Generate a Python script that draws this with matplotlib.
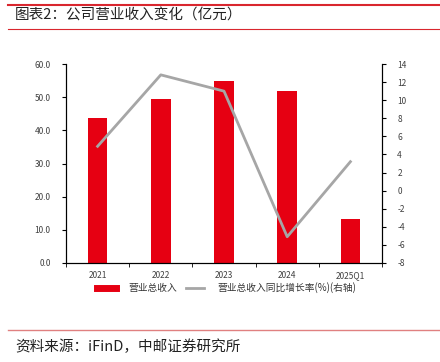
import numpy as np
import matplotlib
matplotlib.use("Agg")
from matplotlib import pyplot as plt
from matplotlib.lines import Line2D

plt.rcParams['font.family'] = ['Noto Sans CJK SC', 'DejaVu Sans']
plt.rcParams['axes.unicode_minus'] = False

categories = ['2021', '2022', '2023', '2024', '2025Q1']
revenue = [43.8, 49.3, 54.8, 51.9, 13.3]
growth = [4.9, 12.8, 11.0, -5.1, 3.2]

red = '#e60012'
grey = '#a6a6a6'
tick_col = '#404040'

fig = plt.figure(figsize=(4.4, 3.62), dpi=100)
ax = fig.add_axes([66 / 440, 1 - 263 / 362, 316 / 440, 199 / 362])
ax2 = ax.twinx()

x = np.arange(len(categories))
ax.bar(x, revenue, width=0.31, color=red, zorder=2)
ax2.plot(x, growth, color=grey, lw=2, zorder=3)

ax.set_xlim(-0.5, len(categories) - 0.5)
ax.set_ylim(0, 60)
ax.set_yticks(np.arange(0, 61, 10))
ax.set_yticklabels(['%.1f' % v for v in np.arange(0, 61, 10)])
ax2.set_ylim(-8, 14)
ax2.set_yticks(np.arange(-8, 15, 2))

ax.set_xticks(x)
ax.set_xticklabels(categories)
ax.set_xticks(np.arange(-0.5, len(categories)), minor=True)
ax.tick_params(axis='x', which='major', length=0, labelsize=6, colors=tick_col, pad=6)
ax.tick_params(axis='x', which='minor', length=3, direction='out', color='black')
ax.tick_params(axis='y', length=3, labelsize=6, colors=tick_col, pad=8)
ax.tick_params(axis='y', color='black')
ax2.tick_params(axis='y', length=3, labelsize=6, labelcolor=tick_col, color='black', pad=8)

for a in (ax, ax2):
    a.spines['top'].set_visible(False)
    for s in ('left', 'right', 'bottom'):
        a.spines[s].set_color('black')
        a.spines[s].set_linewidth(0.8)
ax.set_zorder(ax2.get_zorder() - 1)
ax.patch.set_visible(True)
ax2.patch.set_visible(False)

handles = [Line2D([0], [0], color=red, lw=5),
           Line2D([0], [0], color=grey, lw=2)]
fig.legend(handles, ['营业总收入', '营业总收入同比增长率(%)(右轴)'],
           loc='center', bbox_to_anchor=(0.515, 1 - 288 / 362), ncol=2,
           frameon=False, fontsize=7, handlelength=1.9, handletextpad=1.3,
           columnspacing=0.9, labelcolor='#333333')

# header and footer rules
fig.add_artist(Line2D([8 / 440, 1], [1 - 5 / 362] * 2, color='#d9262e', lw=1.5))
fig.add_artist(Line2D([8 / 440, 1], [1 - 29 / 362] * 2, color='#d9262e', lw=0.8))
fig.add_artist(Line2D([8 / 440, 1], [1 - 330 / 362] * 2, color='#e08080', lw=1))
fig.text(15 / 440, 1 - 16 / 362, '图表2：公司营业收入变化（亿元）', fontsize=10.5,
         va='center', ha='left', color='#222222')
fig.text(15 / 440, 1 - 347 / 362, '资料来源：iFinD，中邮证券研究所', fontsize=10.5,
         va='center', ha='left', color='#222222')

fig.savefig('out.png', dpi=100)
